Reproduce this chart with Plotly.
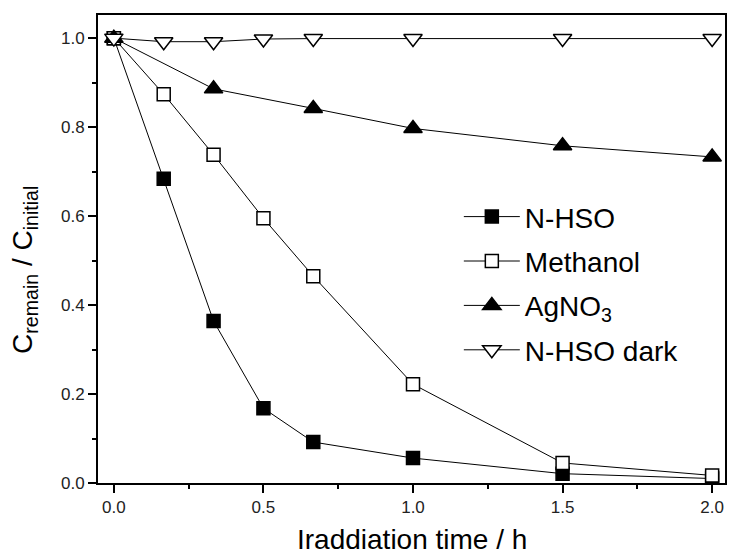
import plotly.graph_objects as go

time_h = [0, 1/6, 1/3, 0.5, 2/3, 1.0, 1.5, 2.0]
nhso = [1.0, 0.684, 0.364, 0.168, 0.092, 0.056, 0.021, 0.010]
methanol = [1.0, 0.874, 0.738, 0.595, 0.465, 0.222, 0.045, 0.017]
agno3_time = [0, 1/3, 2/3, 1.0, 1.5, 2.0]
agno3 = [1.0, 0.886, 0.842, 0.797, 0.758, 0.733]
dark = [1.0, 0.992, 0.992, 0.998, 0.999, 0.999, 0.999, 0.999]

names = ["N-HSO", "Methanol", "AgNO<sub>3</sub>", "N-HSO dark"]
x_ticks = [0, 0.5, 1.0, 1.5, 2.0]
x_ticklabels = ["0.0", "0.5", "1.0", "1.5", "2.0"]
y_ticks = [0, 0.2, 0.4, 0.6, 0.8, 1.0]
y_ticklabels = ["0.0", "0.2", "0.4", "0.6", "0.8", "1.0"]
x_title = "Iraddiation time / h"
y_title = "C<sub>remain</sub> / C<sub>initial</sub>"

font = "Liberation Sans, Arial, sans-serif"
fig = go.Figure()

def add(x, y, name, symbol, fill, size):
    fig.add_trace(go.Scatter(
        x=x, y=y, name=name, mode="lines+markers", legendgroup=name,
        line=dict(color="black", width=1),
        marker=dict(symbol=symbol, size=size, color=fill,
                    line=dict(color="black", width=1.5)),
    ))

add(time_h, nhso, names[0], "square", "black", 13)
add(time_h, methanol, names[1], "square", "white", 13)
add(agno3_time, agno3, names[2], "triangle-up", "black", 16)
add(time_h, dark, names[3], "triangle-down", "white", 16)

axis_common = dict(
    showline=True, linecolor="black", linewidth=2, mirror=True,
    ticks="outside", tickcolor="black", tickwidth=2, ticklen=8,
    showgrid=False, zeroline=False,
    tickfont=dict(family=font, size=17, color="#222222"),
)

fig.update_layout(
    width=729, height=558,
    margin=dict(l=98, r=2, t=15, b=75),
    plot_bgcolor="white", paper_bgcolor="white",
    font=dict(family=font, color="black"),
    xaxis=dict(range=[-0.053, 2.043], tickvals=x_ticks, ticktext=x_ticklabels,
               minor=dict(dtick=0.25, tick0=0, ticks="outside", ticklen=4, tickwidth=2, tickcolor="black"),
               **axis_common),
    yaxis=dict(range=[0, 1.052], tickvals=y_ticks, ticktext=y_ticklabels,
               minor=dict(dtick=0.1, tick0=0, ticks="outside", ticklen=4, tickwidth=2, tickcolor="black"),
               **axis_common),
    legend=dict(x=0.5755, y=0.622, xanchor="left", yanchor="top",
                bgcolor="rgba(0,0,0,0)", font=dict(family=font, size=28),
                tracegroupgap=5, itemwidth=56),
    showlegend=True,
    annotations=[
        dict(text=x_title, xref="paper", yref="paper", x=0.5, y=0,
             xanchor="center", yanchor="middle", yshift=-56, showarrow=False,
             font=dict(family=font, size=28, color="black")),
        dict(text=y_title, xref="paper", yref="paper", x=0, y=0.5,
             xanchor="center", yanchor="middle", xshift=-74, yshift=-21,
             textangle=-90, showarrow=False,
             font=dict(family=font, size=28, color="black")),
    ],
)

fig.write_html("out.html", config={"displayModeBar": False},
               post_script="document.body.style.margin='0';")
